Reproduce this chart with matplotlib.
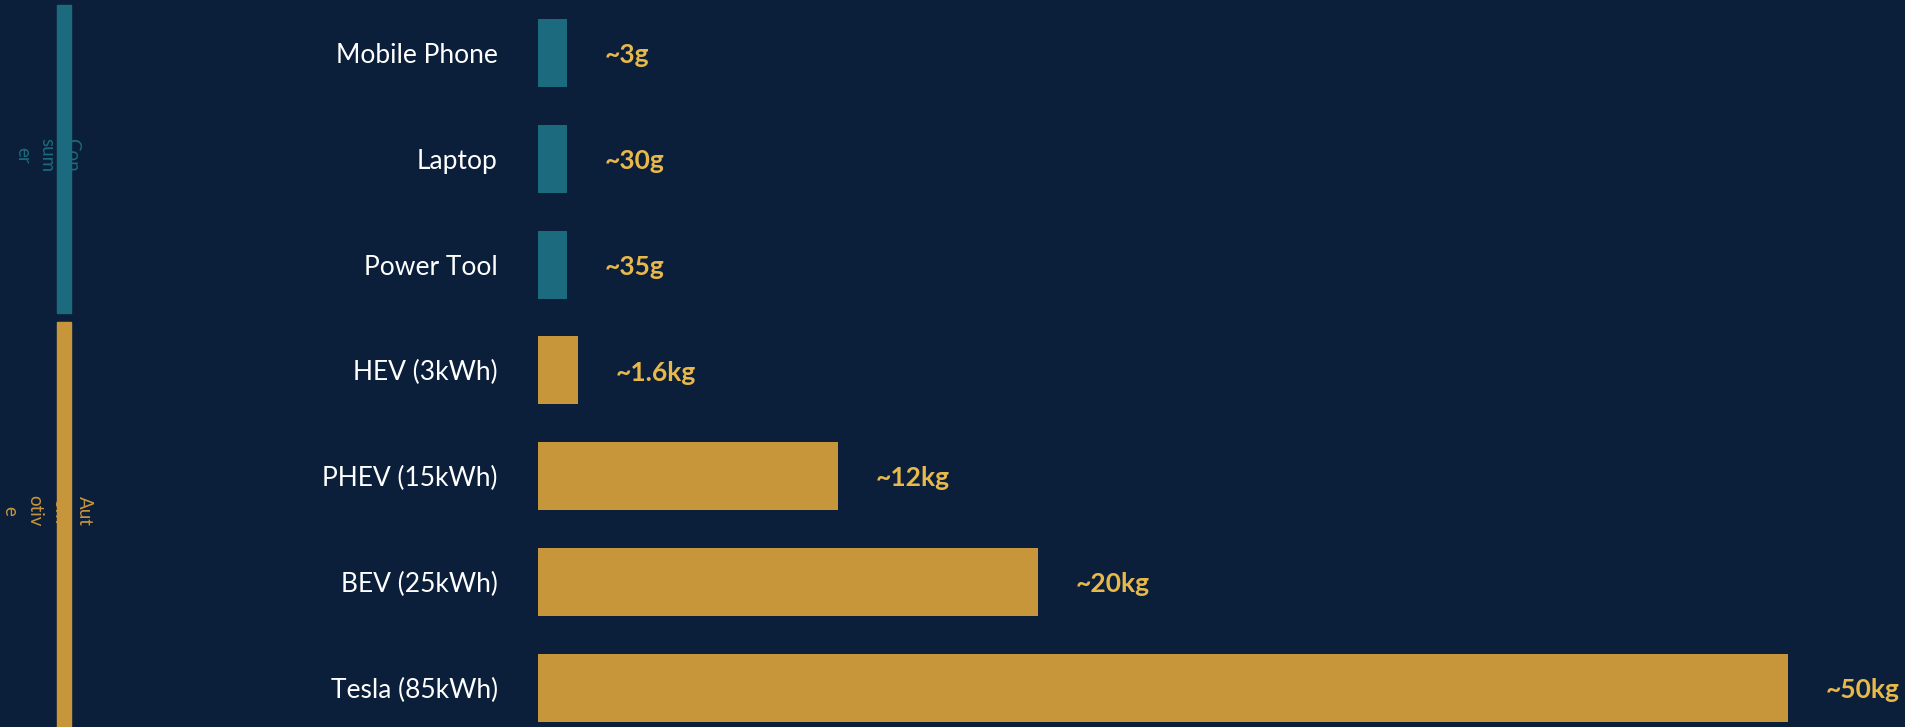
import matplotlib.pyplot as plt
from matplotlib.patches import Rectangle
from matplotlib.transforms import blended_transform_factory

# data
categories = ["Mobile Phone", "Laptop", "Power Tool",
              "HEV (3kWh)", "PHEV (15kWh)", "BEV (25kWh)", "Tesla (85kWh)"]
bar_len = [1.16, 1.16, 1.16, 1.6, 12, 20, 50]   # drawn length, kg scale
value_labels = ["~3g", "~30g", "~35g", "~1.6kg", "~12kg", "~20kg", "~50kg"]
groups = ["Consumer", "Automotive"]
group_text = ["Con\nsum\ner", "Aut\nom\notiv\ne"]
group_rows = [(0, 2), (3, 6)]

BG = "#0b1f3a"
TEAL = "#1b6a7d"
GOLD = "#c8963a"
VAL = "#e8b84a"
FONT = "Lato"


def main():
	fig = plt.figure(figsize=(19.05, 7.27), dpi=100, facecolor=BG)
	ax = fig.add_axes([538 / 1905, 0, 1367 / 1905, 1])
	ax.set_facecolor(BG)

	colors = [TEAL] * 3 + [GOLD] * 4
	rows = list(range(len(categories)))
	ax.barh(rows, bar_len, height=0.643, color=colors, zorder=2)

	ax.set_xlim(0, 1367 / 25)
	ax.set_ylim(6.37, -0.501)
	ax.set_yticks(rows, categories)
	ax.tick_params(axis="y", length=0, pad=29, labelsize=19, labelcolor="white")
	for t in ax.get_yticklabels():
		t.set_fontfamily(FONT)
	ax.set_xticks([])
	for s in ax.spines.values():
		s.set_visible(False)

	for r, v, lab in zip(rows, bar_len, value_labels):
		ax.annotate(lab, (v, r), xytext=(27, -1.5), textcoords="offset points",
			ha="left", va="center", fontsize=19, fontweight="bold",
			fontfamily=FONT, color=VAL, annotation_clip=False)

	# group strips on the far left
	blend = blended_transform_factory(fig.transFigure, ax.transData)
	strip_colors = [TEAL, GOLD]
	text_y = [0.964, 4.33]
	for (a, b), c, txt, ty in zip(group_rows, strip_colors, group_text, text_y):
		ax.add_patch(Rectangle((57 / 1905, a - 0.455), 14 / 1905, b - a + 0.91,
			transform=blend, color=c, clip_on=False, zorder=3))
		ax.text(47 / 1905, ty, txt, transform=blend, rotation=270,
			ha="center", va="center", multialignment="center",
			linespacing=1.55, fontsize=13.5, fontfamily=FONT, color=c,
			zorder=1, clip_on=False)

	fig.savefig("out.png", dpi=100, facecolor=BG)


if __name__ == "__main__":
	main()
